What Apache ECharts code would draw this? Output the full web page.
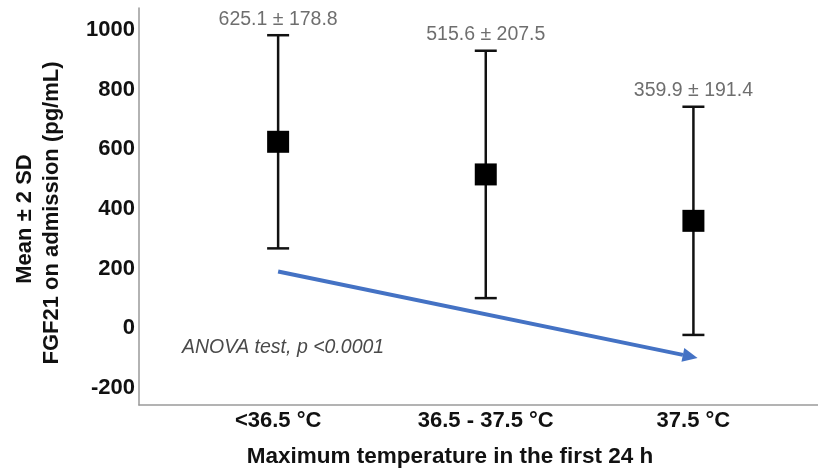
<!DOCTYPE html>
<html>
<head>
<meta charset="utf-8">
<script src="https://cdn.jsdelivr.net/npm/echarts@6/dist/echarts.min.js"></script>
<style>
  html, body { margin: 0; padding: 0; background: #fff; }
  #chart { width: 818px; height: 471px; }
</style>
</head>
<body>
<div id="chart"></div>
<script>
// FGF21 on admission by maximum temperature group (mean ± 2 SD)
const categories = ['<36.5 °C', '36.5 - 37.5 °C', '37.5 °C'];
const means = [625.1, 515.6, 359.9];
const sds = [178.8, 207.5, 191.4];
const yTicks = [-200, 0, 200, 400, 600, 800, 1000];
// decreasing-trend arrow, in axis units [x, y]
const trendArrow = [[1, 190], [3.02, -100]];

const FONT = '"Liberation Sans", Arial, Helvetica, sans-serif';
const positions = categories.map((c, i) => i + 1);

const chart = echarts.init(document.getElementById('chart'), null, { renderer: 'canvas' });

const errorData = positions.map((x, i) => [x, means[i] - 2 * sds[i], means[i] + 2 * sds[i]]);
const meanData = positions.map((x, i) => [x, means[i]]);
const labelData = positions.map((x, i) => ({
  value: [x, means[i] + 2 * sds[i]],
  label: { formatter: means[i].toFixed(1) + ' ± ' + sds[i].toFixed(1) }
}));

chart.setOption({
  animation: false,
  backgroundColor: '#fff',
  grid: { left: 139, right: 0, top: 8, bottom: 66, containLabel: false },
  xAxis: {
    type: 'value',
    min: 0.33,
    max: 3.6,
    splitLine: { show: false },
    axisTick: { show: false },
    axisLine: { show: true, onZero: false, lineStyle: { color: '#9a9a9a', width: 1.5 } },
    axisLabel: {
      customValues: positions,
      formatter: v => categories[Math.round(v) - 1] || '',
      color: '#111',
      fontFamily: FONT,
      fontWeight: 'bold',
      fontSize: 22,
      margin: 5
    }
  },
  yAxis: {
    type: 'value',
    min: -258,
    max: 1074,
    splitLine: { show: false },
    axisTick: { show: false },
    axisLine: { show: true, onZero: false, lineStyle: { color: '#9a9a9a', width: 1.5 } },
    axisLabel: {
      customValues: yTicks,
      formatter: v => String(v),
      color: '#111',
      fontFamily: FONT,
      fontWeight: 'bold',
      fontSize: 22,
      margin: 4
    }
  },
  series: [
    {
      type: 'custom',
      name: 'error',
      data: errorData,
      encode: { x: 0, y: [1, 2] },
      z: 2,
      renderItem: function (params, api) {
        const x = api.value(0);
        const lo = api.coord([x, api.value(1)]);
        const hi = api.coord([x, api.value(2)]);
        const hw = 11;
        const style = { stroke: '#111', lineWidth: 2.5, fill: null };
        return {
          type: 'group',
          children: [
            { type: 'line', shape: { x1: lo[0], y1: lo[1], x2: hi[0], y2: hi[1] }, style: style },
            { type: 'line', shape: { x1: hi[0] - hw, y1: hi[1], x2: hi[0] + hw, y2: hi[1] }, style: style },
            { type: 'line', shape: { x1: lo[0] - hw, y1: lo[1], x2: lo[0] + hw, y2: lo[1] }, style: style }
          ]
        };
      }
    },
    {
      type: 'scatter',
      name: 'mean',
      data: meanData,
      symbol: 'rect',
      symbolSize: 22,
      itemStyle: { color: '#000', opacity: 1 },
      z: 3
    },
    {
      type: 'scatter',
      name: 'summary',
      data: labelData,
      symbolSize: 0,
      silent: true,
      label: {
        show: true,
        position: 'top',
        distance: 6,
        color: '#4a4a4a',
        fontFamily: FONT,
        fontSize: 19.5
      }
    },
    {
      type: 'custom',
      name: 'trend',
      data: [trendArrow[0].concat(trendArrow[1])],
      encode: { x: [0, 2], y: [1, 3] },
      silent: true,
      z: 4,
      renderItem: function (params, api) {
        const p0 = api.coord([api.value(0), api.value(1)]);
        const p1 = api.coord([api.value(2), api.value(3)]);
        const ang = Math.atan2(p1[1] - p0[1], p1[0] - p0[0]);
        const headLen = 15, headHalf = 7;
        const bx = p1[0] - headLen * Math.cos(ang);
        const by = p1[1] - headLen * Math.sin(ang);
        const nx = -Math.sin(ang), ny = Math.cos(ang);
        const color = '#4472C4';
        return {
          type: 'group',
          children: [
            { type: 'line', shape: { x1: p0[0], y1: p0[1], x2: bx, y2: by },
              style: { stroke: color, lineWidth: 4 } },
            { type: 'polygon', shape: { points: [
                [p1[0], p1[1]],
                [bx + nx * headHalf, by + ny * headHalf],
                [bx - nx * headHalf, by - ny * headHalf]
              ] }, style: { fill: color } }
          ]
        };
      }
    }
  ],
  graphic: [
    {
      type: 'text',
      left: 182,
      top: 338,
      style: {
        text: 'ANOVA test, p <0.0001',
        fill: '#4a4a4a',
        font: 'italic 19.5px ' + FONT
      }
    },
    {
      type: 'text',
      x: 450,
      y: 457,
      style: {
        text: 'Maximum temperature in the first 24 h',
        fill: '#111',
        font: 'bold 22.5px ' + FONT,
        align: 'center',
        verticalAlign: 'middle'
      }
    },
    {
      type: 'text',
      x: 25,
      y: 219,
      rotation: Math.PI / 2,
      style: {
        text: 'Mean ± 2 SD',
        fill: '#111',
        font: 'bold 22px ' + FONT,
        align: 'center',
        verticalAlign: 'middle'
      }
    },
    {
      type: 'text',
      x: 52,
      y: 213,
      rotation: Math.PI / 2,
      style: {
        text: 'FGF21 on admission (pg/mL)',
        fill: '#111',
        font: 'bold 22px ' + FONT,
        align: 'center',
        verticalAlign: 'middle'
      }
    }
  ]
});
</script>
</body>
</html>
